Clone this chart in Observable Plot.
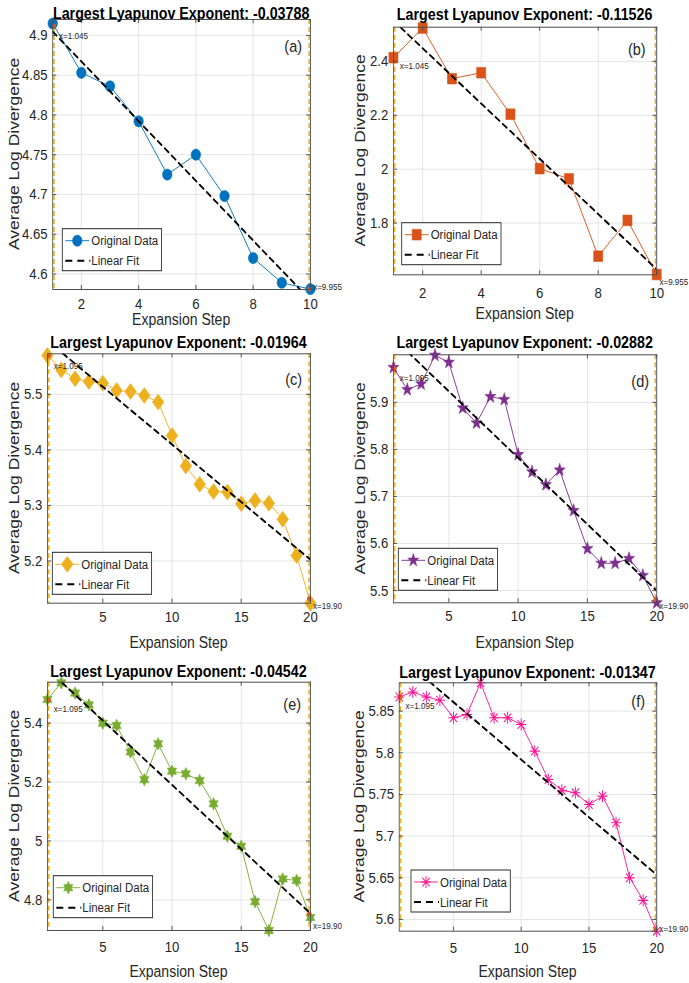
<!DOCTYPE html>
<html><head><meta charset="utf-8">
<script src="https://cdn.jsdelivr.net/npm/d3@7"></script>
<script src="https://cdn.jsdelivr.net/npm/@observablehq/plot@0.6"></script>
<style>
html,body{margin:0;padding:0;overflow:hidden;background:#fff;}
#wrap{position:relative;width:810.59px;height:983px;transform:scaleX(0.85);transform-origin:0 0;}
#wrap > svg{position:absolute;left:0;top:0;}
</style></head><body><div id="wrap"></div>
<script>
// ---------- data ----------
const steps10 = [1, 2, 3, 4, 5, 6, 7, 8, 9, 10];
const steps20 = [1, 2, 3, 4, 5, 6, 7, 8, 9, 10, 11, 12, 13, 14, 15, 16, 17, 18, 19, 20];
const exponents = ["-0.03788", "-0.11526", "-0.01964", "-0.02882", "-0.04542", "-0.01347"];
const panelLetters = ["(a)", "(b)", "(c)", "(d)", "(e)", "(f)"];

const divA = [4.915, 4.853, 4.836, 4.792, 4.725, 4.750, 4.698, 4.620, 4.589, 4.581];
const divB = [2.414, 2.524, 2.336, 2.358, 2.204, 2.002, 1.964, 1.677, 1.810, 1.609];
const divC = [5.570, 5.544, 5.528, 5.523, 5.520, 5.507, 5.505, 5.498, 5.486, 5.426, 5.371, 5.338, 5.325, 5.324, 5.303, 5.309, 5.304, 5.275, 5.210, 5.124];
const divD = [5.974, 5.927, 5.939, 6.000, 5.985, 5.888, 5.856, 5.912, 5.906, 5.789, 5.752, 5.725, 5.756, 5.670, 5.589, 5.558, 5.558, 5.568, 5.532, 5.474];
const divE = [5.480, 5.537, 5.502, 5.462, 5.400, 5.392, 5.302, 5.208, 5.330, 5.237, 5.228, 5.205, 5.126, 5.016, 4.982, 4.794, 4.696, 4.871, 4.866, 4.740];
const divF = [5.867, 5.873, 5.867, 5.863, 5.842, 5.846, 5.884, 5.842, 5.842, 5.834, 5.802, 5.768, 5.755, 5.752, 5.738, 5.748, 5.716, 5.650, 5.623, 5.586];

const xTicks10 = [2, 4, 6, 8, 10];
const xTicks20 = [5, 10, 15, 20];
const yTicksA = [4.6, 4.65, 4.7, 4.75, 4.8, 4.85, 4.9];
const yTicksB = [1.8, 2, 2.2, 2.4];
const yTicksC = [5.2, 5.3, 5.4, 5.5];
const yTicksD = [5.5, 5.6, 5.7, 5.8, 5.9];
const yTicksE = [4.8, 5, 5.2, 5.4];
const yTicksF = [5.6, 5.65, 5.7, 5.75, 5.8, 5.85];

const xDomain10 = [1, 10];
const xDomain20 = [1, 20];
const yDomainA = [4.5805, 4.920];
const yDomainB = [1.608, 2.527];
const yDomainC = [5.124, 5.573];
const yDomainD = [5.474, 6.001];
const yDomainE = [4.696, 5.539];
const yDomainF = [5.586, 5.884];

const tipX10 = [1.045, 9.955];
const tipX20 = [1.095, 19.90];
const tipLabels10 = ["x=1.045", "x=9.955"];
const tipLabels20 = ["x=1.095", "x=19.90"];
const tipYA = [4.912, 4.581];
const tipYB = [2.414, 1.609];
const tipYC = [5.569, 5.132];
const tipYD = [5.972, 5.481];
const tipYE = [5.478, 4.752];
const tipYF = [5.867, 5.588];

// ---------- styling / layout ----------
const S = 0.85;               // horizontal condensation of the figure
const W = 689 / S, H = 983;
const FONT = "'Liberation Sans', Arial, Helvetica, sans-serif";
const TXT = "#262626";
const GRID = "#e2e2e2";
const FRAME = "#4d4d4d";
const TIPLINE = "#EDB120";
const TIPDOT = "#E0561B";

const R = Math.sqrt;
const symCircle = {draw(c, size) { const r = R(size / Math.PI); c.moveTo(r, 0); c.arc(0, 0, r, 0, 2 * Math.PI); c.closePath(); }};
const symSquare = {draw(c, size) { const r = R(size / Math.PI) * 0.92; c.rect(-r, -r, 2 * r, 2 * r); }};
const symDiamond = {draw(c, size) { const r = R(size / Math.PI); const hw = r * 1.2, hh = r * 1.4;
  c.moveTo(0, -hh); c.lineTo(hw, 0); c.lineTo(0, hh); c.lineTo(-hw, 0); c.closePath(); }};
function starSym(n, outerK, innerRatio) {
  return {draw(c, size) {
    const ro = R(size / Math.PI) * outerK, ri = ro * innerRatio;
    for (let i = 0; i < 2 * n; i++) {
      const a = -Math.PI / 2 + i * Math.PI / n, rr = i % 2 ? ri : ro;
      const px = rr * Math.cos(a), py = rr * Math.sin(a);
      if (i) c.lineTo(px, py); else c.moveTo(px, py);
    }
    c.closePath();
  }};
}
const symPentagram = starSym(5, 1.2, 0.40);
const symHexagram = starSym(6, 1.1, 0.56);
const symAsterisk = {draw(c, size) { const r = R(size / Math.PI) * 1.05, d = r * 0.72;
  c.moveTo(0, -r); c.lineTo(0, r); c.moveTo(-r, 0); c.lineTo(r, 0);
  c.moveTo(-d, -d); c.lineTo(d, d); c.moveTo(-d, d); c.lineTo(d, -d); }};

const panels = [
  {x: steps10, y: divA, xDomain: xDomain10, yDomain: yDomainA, xTicks: xTicks10, yTicks: yTicksA, tipX: tipX10, tipY: tipYA, tipLabels: tipLabels10,
   color: "#0072BD", sym: symCircle, r: 5.6, filled: true,
   L: 52.3, Rt: 310, T: 19, B: 289, titleY: 19.5, xlabY: 325, ylabX: 13.3, letterX: 302, letterY: 46, legX: 62.3, legY: 228.7, xPad: 8, tipDy: [10, -2]},
  {x: steps10, y: divB, xDomain: xDomain10, yDomain: yDomainB, xTicks: xTicks10, yTicks: yTicksB, tipX: tipX10, tipY: tipYB, tipLabels: tipLabels10,
   color: "#D95319", sym: symSquare, r: 5.8, filled: true,
   L: 393, Rt: 656.3, T: 26.7, B: 274.3, titleY: 20.5, xlabY: 319, ylabX: 360, letterX: 645.7, letterY: 49, legX: 401.7, legY: 222.7, xPad: 12, tipDy: [8, 7]},
  {x: steps20, y: divC, xDomain: xDomain20, yDomain: yDomainC, xTicks: xTicks20, yTicks: yTicksC, tipX: tipX20, tipY: tipYC, tipLabels: tipLabels20,
   color: "#EDB120", sym: symDiamond, r: 5.7, filled: true,
   L: 47, Rt: 310, T: 353.3, B: 602.7, titleY: 348.5, xlabY: 648, ylabX: 13.3, letterX: 302, letterY: 379, legX: 52.3, legY: 552.3, xPad: 7.5, tipDy: [10, 7]},
  {x: steps20, y: divD, xDomain: xDomain20, yDomain: yDomainD, xTicks: xTicks20, yTicks: yTicksD, tipX: tipX20, tipY: tipYD, tipLabels: tipLabels20,
   color: "#7E2F8E", sym: symPentagram, r: 5.7, filled: true,
   L: 393, Rt: 656.3, T: 354.3, B: 602.3, titleY: 348.5, xlabY: 648, ylabX: 360, letterX: 649, letterY: 381, legX: 398.3, legY: 548.3, xPad: 7.5, tipDy: [10, 6]},
  {x: steps20, y: divE, xDomain: xDomain20, yDomain: yDomainE, xTicks: xTicks20, yTicks: yTicksE, tipX: tipX20, tipY: tipYE, tipLabels: tipLabels20,
   color: "#77AC30", sym: symHexagram, r: 5.7, filled: true,
   L: 47, Rt: 310, T: 681.7, B: 930, titleY: 677, xlabY: 977, ylabX: 13.3, letterX: 301, letterY: 704, legX: 53.3, legY: 875.7, xPad: 11, tipDy: [9, 12]},
  {x: steps20, y: divF, xDomain: xDomain20, yDomain: yDomainF, xTicks: xTicks20, yTicks: yTicksF, tipX: tipX20, tipY: tipYF, tipLabels: tipLabels20,
   color: "#FF1493", sym: symAsterisk, r: 5.7, filled: false,
   L: 398.8, Rt: 656.3, T: 682.3, B: 930.7, titleY: 678, xlabY: 977, ylabX: 359, letterX: 645, letterY: 701, legX: 411, legY: 870, xPad: 10.5, tipDy: [9, -1]}
];

const wrap = document.getElementById("wrap");

panels.forEach((p) => {
  const data = p.x.map((x, i) => ({x, y: p.y[i]}));
  const tips = p.tipX.map((x, i) => ({x, y: p.tipY[i], label: p.tipLabels[i]}));
  const fl = p.L / S, fr = p.Rt / S;
  const fw = fr - fl, fh = p.B - p.T;
  const markStyle = p.filled
    ? {fill: p.color, stroke: p.color, strokeWidth: 0.6}
    : {fill: "none", stroke: p.color, strokeWidth: 1.1};
  const chart = Plot.plot({
    width: W, height: H,
    marginLeft: fl, marginRight: W - fr, marginTop: p.T, marginBottom: H - p.B,
    style: {background: "transparent", fontFamily: FONT, fontSize: "15.5px", color: TXT, overflow: "visible"},
    x: {domain: p.xDomain, ticks: p.xTicks, tickSize: 0, tickPadding: p.xPad, tickFormat: (d) => String(d), label: null},
    y: {domain: p.yDomain, ticks: p.yTicks, tickSize: 0, tickPadding: 6, tickFormat: (d) => String(d), label: null},
    marks: [
      Plot.ruleX(p.xTicks, {stroke: GRID, strokeWidth: 1}),
      Plot.ruleY(p.yTicks, {stroke: GRID, strokeWidth: 1}),
      Plot.ruleX(p.tipX, {stroke: TIPLINE, strokeWidth: 1.8, strokeDasharray: "5,3"}),
      Plot.line(data, {x: "x", y: "y", stroke: p.color, strokeWidth: 1}),
      Plot.dot(data, {x: "x", y: "y", r: p.r, symbol: p.sym, ...markStyle}),
      Plot.linearRegressionY(data, {x: "x", y: "y", stroke: "#000", strokeWidth: 2, strokeDasharray: "6,5", ci: 0, clip: true}),
      Plot.dot(tips, {x: "x", y: "y", r: 2.4, fill: TIPDOT}),
      Plot.text([tips[0]], {x: "x", y: "y", text: "label", dx: 5 / S, dy: p.tipDy[0], textAnchor: "start", fontSize: 9.5, fill: TXT}),
      Plot.text([tips[1]], {x: "x", y: "y", text: "label", dx: 4 / S, dy: p.tipDy[1], textAnchor: "start", fontSize: 9.5, fill: TXT}),
      Plot.ruleX(p.xTicks, {insetTop: fh - 4, stroke: FRAME, strokeWidth: 1}),
      Plot.ruleX(p.xTicks, {insetBottom: fh - 4, stroke: FRAME, strokeWidth: 1}),
      Plot.ruleY(p.yTicks, {insetRight: fw - 4 / S, stroke: FRAME, strokeWidth: 1}),
      Plot.ruleY(p.yTicks, {insetLeft: fw - 4 / S, stroke: FRAME, strokeWidth: 1}),
      Plot.frame({stroke: FRAME, strokeWidth: 1})
    ]
  });
  wrap.appendChild(chart);
});

// ---------- titles, axis labels, panel letters, legends ----------
const ov = d3.select(wrap).append("svg")
  .attr("width", W).attr("height", H)
  .style("overflow", "visible")
  .attr("font-family", FONT);

panels.forEach((p, i) => {
  const cx = (p.L + p.Rt) / 2 / S, cy = (p.T + p.B) / 2;
  ov.append("text").attr("x", cx).attr("y", p.titleY)
    .attr("text-anchor", "middle").attr("font-weight", "bold").attr("font-size", 16.8).attr("fill", "#000")
    .text("Largest Lyapunov Exponent: " + exponents[i]);
  ov.append("text").attr("x", cx).attr("y", p.xlabY)
    .attr("text-anchor", "middle").attr("font-size", 16.5).attr("fill", TXT)
    .text("Expansion Step");
  ov.append("text").attr("transform", `translate(${p.ylabX / S},${cy}) rotate(-90)`)
    .attr("text-anchor", "middle").attr("dy", "0.35em").attr("font-size", 17.5).attr("fill", TXT)
    .text("Average Log Divergence");
  ov.append("text").attr("x", p.letterX / S).attr("y", p.letterY).attr("dy", "0.35em")
    .attr("text-anchor", "end").attr("font-size", 17).attr("fill", TXT)
    .text(panelLetters[i]);

  const g = ov.append("g").attr("transform", `translate(${p.legX / S},${p.legY})`);
  g.append("rect").attr("width", 99.3 / S).attr("height", 42)
    .attr("fill", "#fff").attr("stroke", "#262626").attr("stroke-width", 1);
  g.append("line").attr("x1", 3 / S).attr("x2", 27 / S).attr("y1", 12).attr("y2", 12)
    .attr("stroke", p.color).attr("stroke-width", 1);
  g.append("path").attr("d", d3.symbol(p.sym, Math.PI * p.r * p.r)())
    .attr("transform", `translate(${15 / S},12)`)
    .attr("fill", p.filled ? p.color : "none").attr("stroke", p.color)
    .attr("stroke-width", p.filled ? 0.6 : 1.1);
  g.append("text").attr("x", 29 / S).attr("y", 12).attr("dy", "0.35em")
    .attr("font-size", 13.5).attr("fill", TXT).text("Original Data");
  g.append("line").attr("x1", 3 / S).attr("x2", 28 / S).attr("y1", 32).attr("y2", 32)
    .attr("stroke", "#000").attr("stroke-width", 2).attr("stroke-dasharray", `${7 / S},${5 / S}`);
  g.append("text").attr("x", 29 / S).attr("y", 32).attr("dy", "0.35em")
    .attr("font-size", 13.5).attr("fill", TXT).text("Linear Fit");
});
</script></body></html>
